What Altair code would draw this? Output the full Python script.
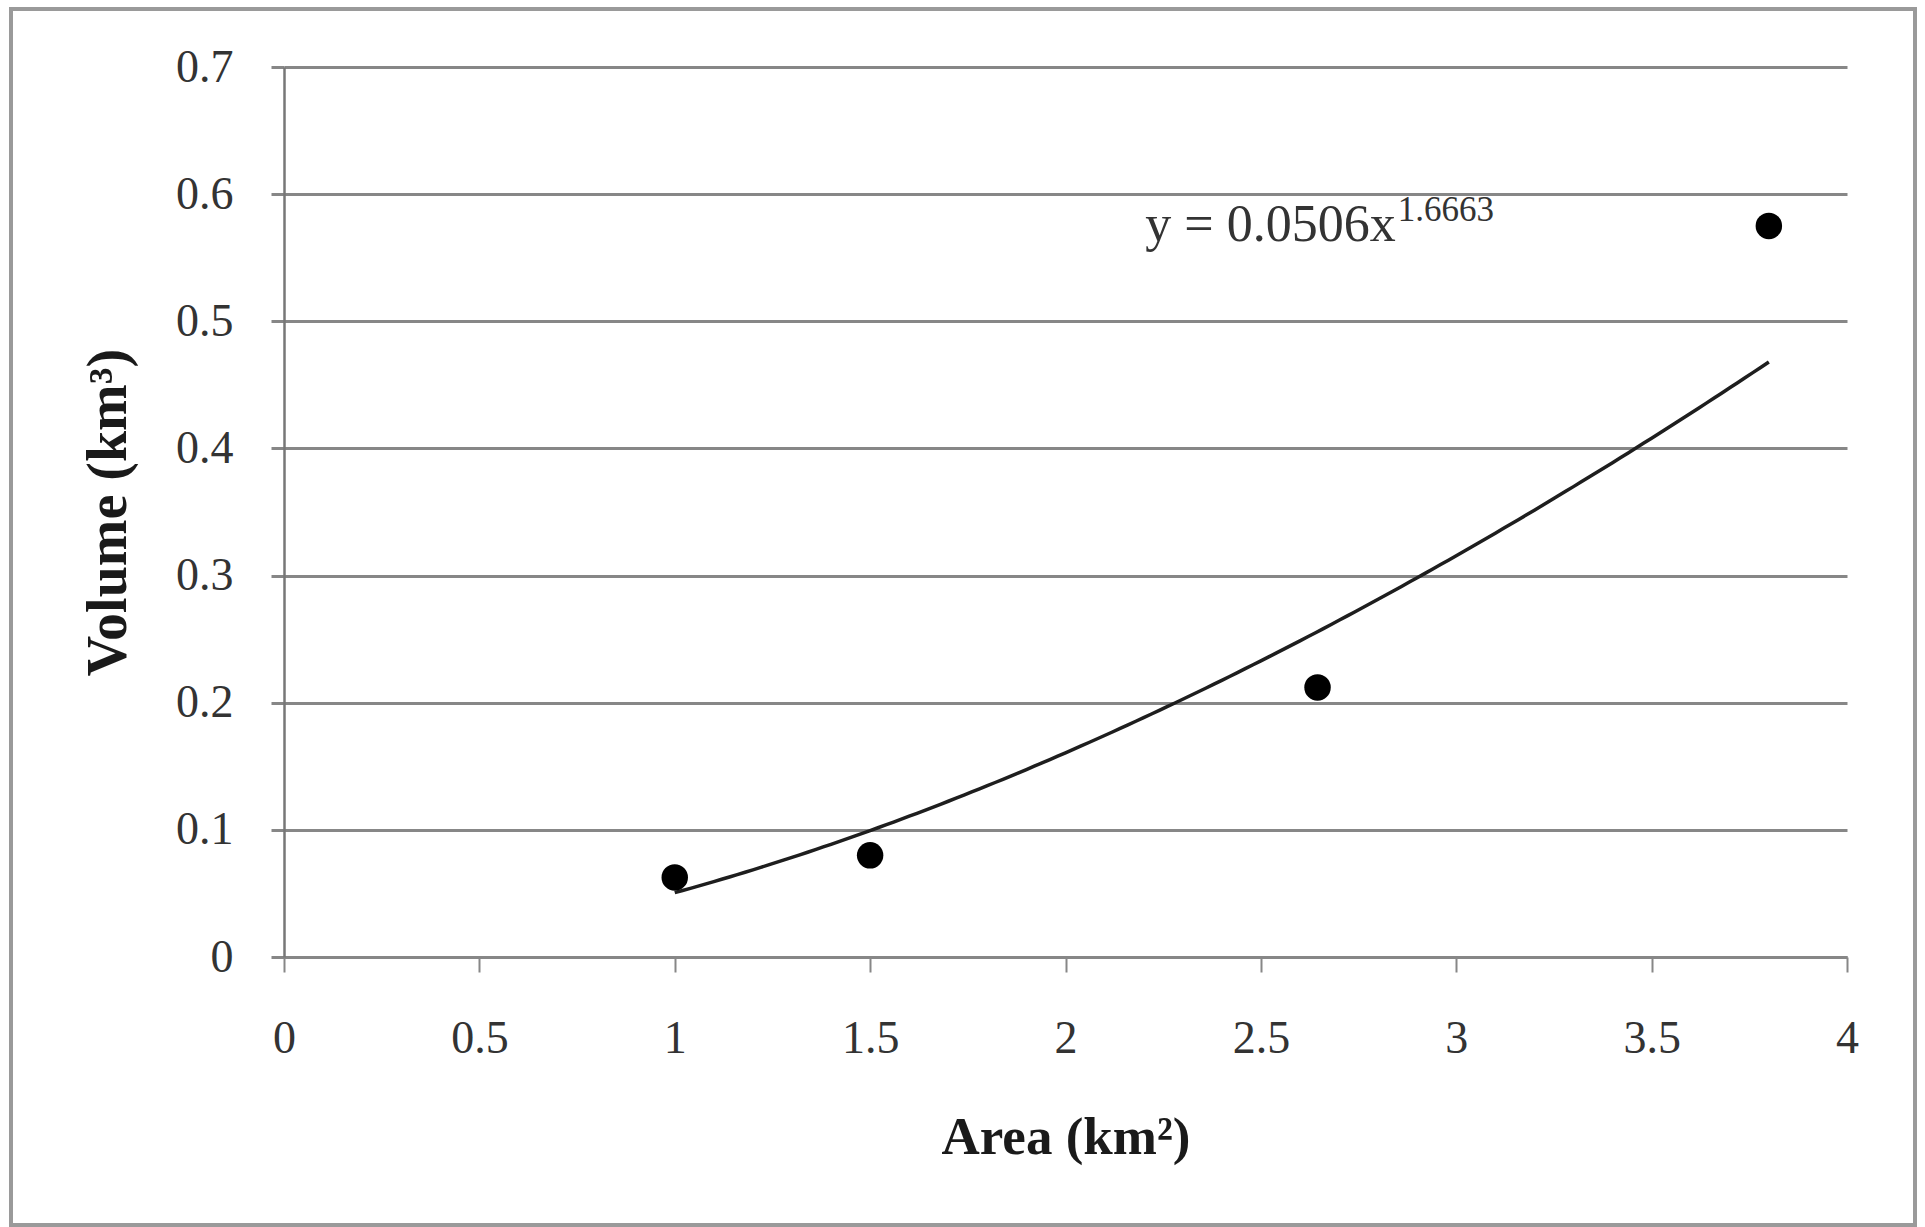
import altair as alt
import pandas as pd

# Measured glacier samples
area_km2 = [1.0, 1.5, 2.645, 3.80]
volume_km3 = [0.0626, 0.080, 0.212, 0.575]

# Power-law fit  V = a * A^b
fit_a = 0.0506
fit_b = 1.6663
fit_range = [1.0, 3.8]

x_ticks = [0, 0.5, 1, 1.5, 2, 2.5, 3, 3.5, 4]
y_ticks = [0, 0.1, 0.2, 0.3, 0.4, 0.5, 0.6, 0.7]

# Where the equation label sits (data units, end of "x")
eq_anchor = {"x": 2.845, "y": 0.563}

FONT = "Liberation Serif"
GRID = "#878787"
TEXT = "#333333"

points = pd.DataFrame({"area": area_km2, "volume": volume_km3})

x_scale = alt.Scale(domain=[0, 4], nice=False, zero=False)
y_scale = alt.Scale(domain=[0, 0.7], nice=False)

x_axis = alt.Axis(
    values=x_ticks, format="~g", grid=False,
    domain=True, domainColor=GRID, domainWidth=3,
    ticks=True, tickColor=GRID, tickWidth=2, tickSize=15,
    labelFont=FONT, labelFontSize=46, labelColor=TEXT, labelPadding=44,
    labelFlush=False,
    title="Area (km²)", titleFont=FONT, titleFontSize=53, titleFontWeight="bold",
    titleColor="#1a1a1a", titleX=781.5, titleY=180, titleBaseline="middle",
    titleAlign="center",
)
y_axis = alt.Axis(
    values=y_ticks, format=".1~f", grid=True, gridColor=GRID, gridWidth=3,
    domain=True, domainColor="#777777", domainWidth=2.5,
    ticks=True, tickColor=GRID, tickWidth=3, tickSize=13,
    labelFont=FONT, labelFontSize=46, labelColor=TEXT, labelPadding=38,
    labelFlush=False,
    title="Volume (km³)", titleFont=FONT, titleFontSize=56, titleFontWeight="bold",
    titleColor="#1a1a1a", titleX=-176, titleY=445, titleAngle=-90,
    titleBaseline="middle", titleAlign="center",
)

base = alt.Chart(points)

scatter = base.mark_circle(size=700, color="black", opacity=1).encode(
    x=alt.X("area:Q", scale=x_scale, axis=x_axis),
    y=alt.Y("volume:Q", scale=y_scale, axis=y_axis),
)

curve = (
    alt.Chart(alt.sequence(fit_range[0], fit_range[1] + 0.005, 0.02, as_="area"))
    .transform_calculate(volume=f"{fit_a} * pow(datum.area, {fit_b})")
    .mark_line(color="#1e1e1e", strokeWidth=3.5)
    .encode(x=alt.X("area:Q", scale=x_scale), y=alt.Y("volume:Q", scale=y_scale))
)

eq_df = pd.DataFrame([eq_anchor])
eq_main = alt.Chart(eq_df).mark_text(
    text=f"y = {fit_a}x", align="right", baseline="alphabetic",
    font=FONT, fontSize=52, color=TEXT,
).encode(x=alt.X("x:Q", scale=x_scale), y=alt.Y("y:Q", scale=y_scale))
eq_sup = alt.Chart(eq_df).mark_text(
    text=f"{fit_b}", align="left", baseline="alphabetic", dx=2, dy=-20,
    font=FONT, fontSize=35, color=TEXT,
).encode(x=alt.X("x:Q", scale=x_scale), y=alt.Y("y:Q", scale=y_scale))

frame = alt.Chart(alt.Data(values=[{}])).mark_rect(
    fill=None, stroke="#9a9a9a", strokeWidth=4, clip=False
).encode(
    x=alt.value(-273), x2=alt.value(1631), y=alt.value(-58), y2=alt.value(1158)
)

chart = (
    alt.layer(frame, curve, scatter, eq_main, eq_sup)
    .properties(
        width=1563, height=890,
        autosize=alt.AutoSizeParams(type="none"),
        padding={"left": 284, "top": 67, "right": 78, "bottom": 270},
        background="white",
    )
    .configure_view(stroke=None)
)

chart.save("out.html", embed_options={"renderer": "svg", "actions": False})
